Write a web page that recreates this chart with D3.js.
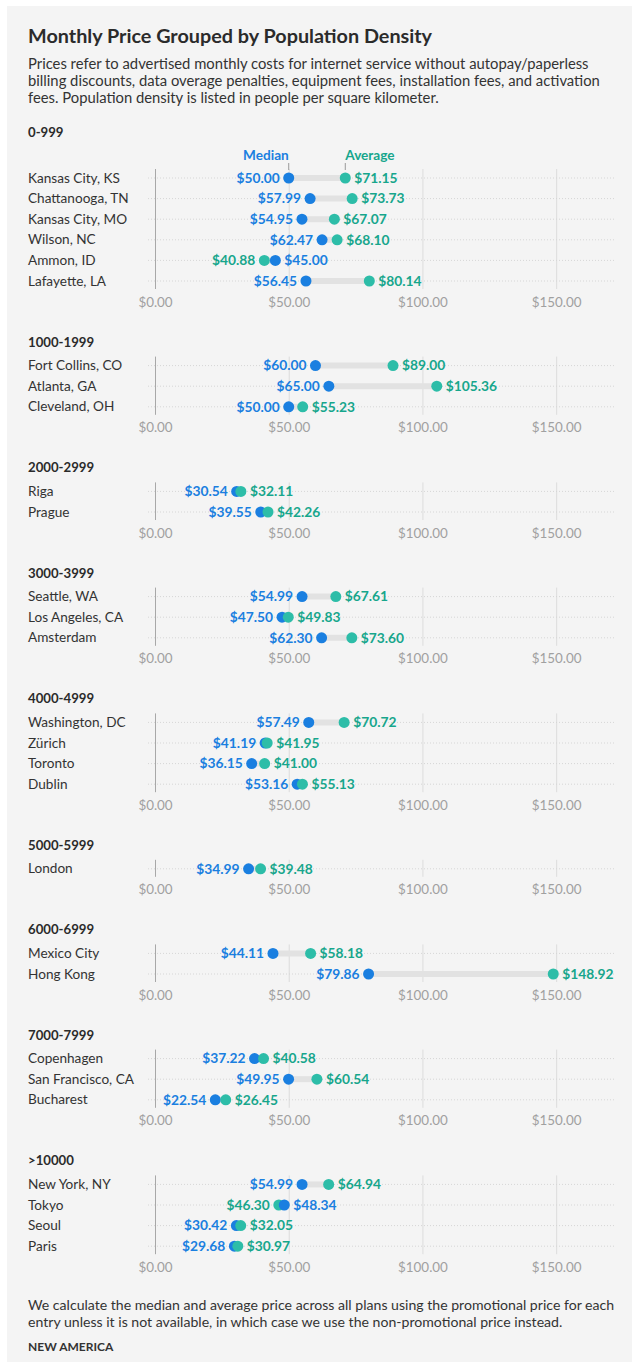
<!DOCTYPE html>
<html>
<head>
<meta charset="utf-8">
<script src="https://cdn.jsdelivr.net/npm/d3@7"></script>
<style>
  body { margin: 0; background: #fff; }
  svg { display: block; font-family: Lato, "Noto Sans", sans-serif; }
</style>
</head>
<body>
<svg></svg>
<script>
// data
const groupNames = ["0-999", "1000-1999", "2000-2999", "3000-3999", "4000-4999",
  "5000-5999", "6000-6999", "7000-7999", ">10000"];
const groupSizes = [6, 3, 2, 3, 4, 1, 2, 3, 4];
const cities = ["Kansas City, KS", "Chattanooga, TN", "Kansas City, MO", "Wilson, NC", "Ammon, ID", "Lafayette, LA",
  "Fort Collins, CO", "Atlanta, GA", "Cleveland, OH",
  "Riga", "Prague",
  "Seattle, WA", "Los Angeles, CA", "Amsterdam",
  "Washington, DC", "Zürich", "Toronto", "Dublin",
  "London",
  "Mexico City", "Hong Kong",
  "Copenhagen", "San Francisco, CA", "Bucharest",
  "New York, NY", "Tokyo", "Seoul", "Paris"];
const medians = [50.00, 57.99, 54.95, 62.47, 45.00, 56.45,
  60.00, 65.00, 50.00,
  30.54, 39.55,
  54.99, 47.50, 62.30,
  57.49, 41.19, 36.15, 53.16,
  34.99,
  44.11, 79.86,
  37.22, 49.95, 22.54,
  54.99, 48.34, 30.42, 29.68];
const averages = [71.15, 73.73, 67.07, 68.10, 40.88, 80.14,
  89.00, 105.36, 55.23,
  32.11, 42.26,
  67.61, 49.83, 73.60,
  70.72, 41.95, 41.00, 55.13,
  39.48,
  58.18, 148.92,
  40.58, 60.54, 26.45,
  64.94, 46.30, 32.05, 30.97];
const tickValues = [0, 50, 100, 150];

const subtitleLines = [
  "Prices refer to advertised monthly costs for internet service without autopay/paperless",
  "billing discounts, data overage penalties, equipment fees, installation fees, and activation",
  "fees. Population density is listed in people per square kilometer."
];
const noteLines = [
  "We calculate the median and average price across all plans using the promotional price for each",
  "entry unless it is not available, in which case we use the non-promotional price instead."
];

let width = 632, height = 1368;
const blue = "#1a7fe0", green = "#2dbda8", greenText = "#17a68c";
const fmt = d3.format("$.2f");

let svg = d3.select("svg").attr("width", width).attr("height", height);

svg.append("rect")
  .attr("x", 7).attr("y", 6)
  .attr("width", width - 7).attr("height", 1356)
  .attr("fill", "#f4f4f4");

svg.append("text")
  .attr("x", 28).attr("y", 43)
  .attr("font-size", 19.8).attr("font-weight", 700).attr("fill", "#2b2b2b")
  .text("Monthly Price Grouped by Population Density");

svg.append("g").selectAll("text")
  .data(subtitleLines).join("text")
  .attr("x", 28).attr("y", (d, i) => 69 + i * 17)
  .attr("font-size", 14.8).attr("fill", "#333")
  .text(d => d);

let x = d3.scaleLinear().domain([0, 172]).range([155, 615]);

const pitch = 20.6;
let headerY = 132;
let idx = 0;

groupNames.forEach((name, gi) => {
  let n = groupSizes[gi];
  let firstRow = headerY + (gi === 0 ? 46 : 23.5);
  let rows = d3.range(n).map(k => ({
    city: cities[idx + k], med: medians[idx + k], avg: averages[idx + k], y: firstRow + k * pitch
  }));
  idx += n;
  let lastRow = firstRow + (n - 1) * pitch;
  let g = svg.append("g");

  g.append("text")
    .attr("x", 28).attr("y", headerY + 4.5)
    .attr("font-size", 13.2).attr("font-weight", 700).attr("fill", "#2b2b2b")
    .text(name);

  // axis with gridlines
  let axisY = lastRow + 8;
  let axis = d3.axisBottom(x)
    .tickValues(tickValues)
    .tickFormat(fmt)
    .tickSizeInner(-(axisY - firstRow + 9))
    .tickSizeOuter(0)
    .tickPadding(8);
  let ax = g.append("g").attr("transform", `translate(0,${axisY})`).call(axis);
  ax.select(".domain").remove();
  ax.selectAll(".tick line").attr("stroke", d => d === 0 ? "#a8a8a8" : "#dcdcdc");
  ax.selectAll(".tick text")
    .attr("font-family", "Lato, sans-serif")
    .attr("font-size", 13.4).attr("fill", "#a0a0a0");

  // legend only on the first group
  if (gi === 0) {
    let r0 = rows[0];
    let leg = g.append("g");
    leg.append("text").attr("x", x(r0.med)).attr("y", 160)
      .attr("text-anchor", "end").attr("font-size", 13.6).attr("font-weight", 700)
      .attr("fill", blue).text("Median");
    leg.append("text").attr("x", x(r0.avg)).attr("y", 160)
      .attr("text-anchor", "start").attr("font-size", 13.6).attr("font-weight", 700)
      .attr("fill", greenText).text("Average");
    leg.selectAll("line").data([r0.med, r0.avg]).join("line")
      .attr("x1", d => x(d)).attr("x2", d => x(d))
      .attr("y1", 163).attr("y2", 170)
      .attr("stroke", "#999").attr("stroke-width", 1);
  }

  let row = g.selectAll(".row").data(rows).join("g").attr("class", "row");

  row.append("text")
    .attr("x", 28).attr("y", d => d.y + 4.5)
    .attr("font-size", 13.6).attr("fill", "#333")
    .text(d => d.city);

  row.append("line")
    .attr("x1", 148).attr("x2", 615)
    .attr("y1", d => d.y).attr("y2", d => d.y)
    .attr("stroke", "#d6d6d6").attr("stroke-dasharray", "1,2");

  row.append("line")
    .attr("x1", d => x(d.med)).attr("x2", d => x(d.avg))
    .attr("y1", d => d.y).attr("y2", d => d.y)
    .attr("stroke", "#e2e2e2").attr("stroke-width", 6);

  // points: lower value first, higher one drawn on top
  let pts = rows.flatMap(d => {
    let a = { v: d.med, col: blue, tc: blue, y: d.y };
    let b = { v: d.avg, col: green, tc: greenText, y: d.y };
    let lo = a.v <= b.v ? a : b, hi = lo === a ? b : a;
    lo.side = "left"; hi.side = "right";
    return [lo, hi];
  });

  g.selectAll("circle").data(pts).join("circle")
    .attr("cx", d => x(d.v)).attr("cy", d => d.y).attr("r", 5.5)
    .attr("fill", d => d.col);

  g.selectAll(".val").data(pts).join("text")
    .attr("class", "val")
    .attr("x", d => x(d.v) + (d.side === "left" ? -9 : 9))
    .attr("y", d => d.y + 4.8)
    .attr("text-anchor", d => d.side === "left" ? "end" : "start")
    .attr("font-size", 13.8).attr("font-weight", 700)
    .attr("fill", d => d.tc)
    .text(d => fmt(d.v));

  headerY = lastRow + 21 + 40.1;
});

svg.append("g").selectAll("text")
  .data(noteLines).join("text")
  .attr("x", 28).attr("y", (d, i) => 1310 + i * 17)
  .attr("font-size", 14.1).attr("fill", "#333")
  .text(d => d);

svg.append("text")
  .attr("x", 28).attr("y", 1351)
  .attr("font-size", 12).attr("font-weight", 700).attr("fill", "#333")
  .text("NEW AMERICA");
</script>
</body>
</html>
